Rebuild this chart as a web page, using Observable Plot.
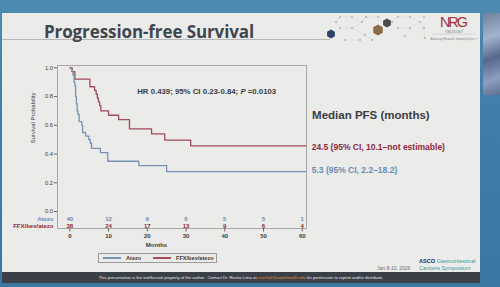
<!DOCTYPE html>
<html>
<head>
<meta charset="utf-8">
<script src="https://cdn.jsdelivr.net/npm/d3@7"></script>
<script src="https://cdn.jsdelivr.net/npm/@observablehq/plot@0.6"></script>
<style>
  html, body { margin: 0; padding: 0; }
  body { width: 500px; height: 287px; overflow: hidden; font-family: "Liberation Sans", Arial, sans-serif; }
  #stage { position: relative; width: 500px; height: 287px; overflow: hidden;
    background: linear-gradient(180deg, #4d8bb0 0%, #3f7ea8 40%, #3a77a2 100%); }
  #slide { position: absolute; left: 2px; top: 13px; width: 478px; height: 259px; background: #ebebe9; }
  #band { position: absolute; left: 2px; top: 272px; width: 478px; height: 11px; background: #3b3f47;
    color: #e8e8e8; font-size: 4.2px; line-height: 11px; text-align: center; white-space: nowrap; }
  #band span { color: #e0913a; }
  #photo { position: absolute; left: 483px; top: 13px; width: 17px; height: 82px;
    background: linear-gradient(160deg, #6d7f9c 0%, #a4b4cf 30%, #56698c 55%, #8c9fc0 80%, #5d7090 100%); }
  #title { position: absolute; left: 44px; top: 20px; font-family: "Open Sans", sans-serif; font-weight: 700;
    font-size: 17px; color: #3e4650; white-space: nowrap; letter-spacing: -0.1px; }
  #rule { position: absolute; left: 2px; top: 39px; width: 328px; height: 1px; background: #b5b8bb; }
  #chart { position: absolute; left: 0; top: 0; }
  #deco { position: absolute; left: 0; top: 0; }
  #legend { position: absolute; left: 98px; top: 252.5px; width: 119px; height: 10.5px; border: 0.8px solid #9a9a9a;
    box-sizing: border-box; font-size: 5.6px; color: #3a3d44; font-weight: 700; }
  #legend .it { position: absolute; top: 0; line-height: 9.5px; white-space: nowrap; }
  #legend .sw { display: inline-block; width: 18px; height: 1.2px; vertical-align: middle; margin-right: 5px; }
</style>
</head>
<body>
<div id="stage">
  <div id="slide"></div>
  <div id="band">This presentation is the intellectual property of the author.&nbsp; Contact Dr. Rocha Lima at <span>crochali@wakehealth.edu</span> for permission to reprint and/or distribute.</div>
  <div id="photo"></div>
  <div id="rule"></div>
  <div id="title">Progression-free Survival</div>
  <svg id="deco" width="500" height="287"></svg>
  <div id="chart"></div>
  <div id="legend">
    <div class="it" style="left:4px"><span class="sw" style="background:#7792b5"></span>Atezo</div>
    <div class="it" style="left:54px"><span class="sw" style="background:#a04a5a"></span>FFX/bev/atezo</div>
  </div>
</div>
<script>
// Numbers at risk, read at each 10-month tick
const months = [0, 10, 20, 30, 40, 50, 60];
const atezoAtRisk = [40, 12, 9, 6, 5, 5, 1];
const ffxAtRisk = [38, 24, 17, 13, 9, 6, 4];

// Kaplan–Meier step points (time in months, survival probability)
const atezoTime = [0, 0.5, 0.8, 1.1, 1.3, 1.5, 1.7, 1.9, 2.1, 2.4, 3.1, 3.3, 4.1, 4.9, 5.3, 5.6, 7.9, 9.8, 17.8, 25, 61];
const atezoSurv = [1, 0.975, 0.95, 0.9, 0.875, 0.8, 0.75, 0.7, 0.675, 0.625, 0.6, 0.55, 0.525, 0.5, 0.475, 0.44, 0.41, 0.35, 0.32, 0.277, 0.277];
const ffxTime = [0, 0.6, 1.3, 5.2, 6.4, 6.8, 7.1, 7.4, 7.7, 8.0, 10, 12.6, 15.4, 21.1, 24.5, 31.2, 61];
const ffxSurv = [1, 0.974, 0.921, 0.868, 0.842, 0.816, 0.79, 0.763, 0.737, 0.70, 0.67, 0.64, 0.575, 0.54, 0.497, 0.457, 0.457];

const yTicks = [0, 0.2, 0.4, 0.6, 0.8, 1.0];
const hrText = "HR 0.439; 95% CI 0.23-0.84; P =0.0103";
const medianTitle = "Median PFS (months)";
const ffxMedian = "24.5 (95% CI, 10.1–not estimable)";
const atezoMedian = "5.3 (95% CI, 2.2–18.2)";

const blue = "#7792b5", red = "#a04a5a";
const blueText = "#6a8cb3", redText = "#8c2a3d", ink = "#3a3d44";

const atezo = atezoTime.map((t, i) => ({t, s: atezoSurv[i]}));
const ffx = ffxTime.map((t, i) => ({t, s: ffxSurv[i]}));
const risk = months.map((m, i) => ({m, a: atezoAtRisk[i], f: ffxAtRisk[i]}));
const atRiskRowA = -0.054, atRiskRowF = -0.098;

const chart = Plot.plot({
  width: 500, height: 287,
  marginLeft: 57, marginRight: 194, marginTop: 65, marginBottom: 59,
  style: {background: "transparent", fontFamily: "Liberation Sans, Arial, sans-serif", color: ink, overflow: "visible"},
  x: {domain: [-3.18, 61.1]},
  y: {domain: [-0.118, 1.016]},
  marks: [
    Plot.frame({stroke: "#a3a3a3", strokeWidth: 0.9}),
    Plot.axisY(yTicks, {tickSize: 3, tickPadding: 1.5, tickFormat: d3.format(".1f"), fontSize: 5.8, label: null, stroke: "#666"}),
    Plot.axisX(months, {tickSize: 3.5, tickPadding: 1.5, fontSize: 6, label: null, stroke: "#666", fontWeight: 700}),
    Plot.text(["Months"], {frameAnchor: "bottom", dx: -25.5, dy: 18, fontSize: 6, fontWeight: 700, fill: ink}),
    Plot.text(["Survival Probability"], {frameAnchor: "left", rotate: -90, dx: -24, dy: -3.5, fontSize: 6, fill: ink}),
    Plot.line(ffx, {x: "t", y: "s", curve: "step-after", stroke: red, strokeWidth: 1.3}),
    Plot.line(atezo, {x: "t", y: "s", curve: "step-after", stroke: blue, strokeWidth: 1.3}),
    Plot.text(risk, {x: "m", y: () => atRiskRowA, text: "a", fill: blueText, fontSize: 6, fontWeight: 700}),
    Plot.text(risk, {x: "m", y: () => atRiskRowF, text: "f", fill: redText, fontSize: 6, fontWeight: 700}),
    Plot.text(["Atezo"], {frameAnchor: "left", y: () => atRiskRowA, dx: -4, textAnchor: "end", fill: blueText, fontSize: 6, fontWeight: 700}),
    Plot.text(["FFX/bev/atezo"], {frameAnchor: "left", y: () => atRiskRowF, dx: -4, textAnchor: "end", fill: redText, fontSize: 6, fontWeight: 700}),
    Plot.text([hrText], {x: 17.4, y: 0.838, textAnchor: "start", fontSize: 7.8, fontWeight: 700, fill: ink, className: "hr"}),
    Plot.text([medianTitle], {x: 61.1, y: 0.667, dx: 5.6, textAnchor: "start", fontSize: 11.5, fontWeight: 700, fill: ink}),
    Plot.text([ffx[ffx.length - 1]], {x: "t", y: "s", text: () => ffxMedian, dx: 5.6, dy: 1.4, textAnchor: "start", fontSize: 8.5, fontWeight: 700, fill: redText}),
    Plot.text([atezo[atezo.length - 1]], {x: "t", y: "s", text: () => atezoMedian, dx: 5.6, dy: -1, textAnchor: "start", fontSize: 8.5, fontWeight: 700, fill: blueText})
  ]
});
document.getElementById("chart").appendChild(chart);

// italic P in the hazard-ratio line
d3.select(chart).selectAll("g.hr text").each(function () {
  const t = d3.select(this);
  const parts = hrText.split("P =");
  t.text(null);
  t.append("tspan").text(parts[0]);
  t.append("tspan").attr("font-style", "italic").text("P");
  t.append("tspan").text(" =" + parts[1]);
});

// header decoration: hexagon network, NRG and ASCO marks, date
const deco = d3.select("#deco");
const dots = [[340,17],[352,17],[362,22],[352,28],[340,28],[336,22],[366,17],[378,17],[398,17],[410,17],[420,22],[410,28],[398,28],[392,22],[365,35],[360,40],[345,40],[424,17],[424,28],[425,38],[405,36],[372,40]];
const links = [[0,1],[1,2],[2,3],[3,4],[4,5],[5,0],[2,6],[6,7],[8,9],[9,10],[10,11],[11,12],[12,13],[13,8],[3,14],[14,15],[15,16],[10,18],[18,19],[11,20],[14,21]];
deco.selectAll("line.l").data(links).join("line")
  .attr("x1", d => dots[d[0]][0]).attr("y1", d => dots[d[0]][1])
  .attr("x2", d => dots[d[1]][0]).attr("y2", d => dots[d[1]][1])
  .attr("stroke", "#d3d4d5").attr("stroke-width", 0.5);
deco.selectAll("circle.d").data(dots).join("circle")
  .attr("cx", d => d[0]).attr("cy", d => d[1]).attr("r", 0.7).attr("fill", "#7b8088");
const hex = (cx, cy, r) => d3.range(6).map(i => [cx + r * Math.cos(Math.PI / 3 * i + Math.PI / 6), cy + r * Math.sin(Math.PI / 3 * i + Math.PI / 6)].join(",")).join(" ");
deco.append("polygon").attr("points", hex(331, 34, 4.5)).attr("fill", "#2d4466");
deco.append("polygon").attr("points", hex(378, 30, 5.5)).attr("fill", "#8c6a4c");
deco.append("polygon").attr("points", hex(387, 23, 4.5)).attr("fill", "#4a4c50");
deco.append("text").attr("x", 454).attr("y", 26.8).attr("text-anchor", "middle").attr("font-size", 14.5)
  .attr("font-family", "Liberation Sans, Arial").attr("fill", "#a3343c").attr("textLength", 28).text("NRG");
deco.append("text").attr("x", 454).attr("y", 32.6).attr("text-anchor", "middle").attr("font-size", 3)
  .attr("fill", "#6b6f75").text("ONCOLOGY");
deco.append("line").attr("x1", 432).attr("x2", 476).attr("y1", 34).attr("y2", 34).attr("stroke", "#b9b9b9").attr("stroke-width", 0.5);
deco.append("text").attr("x", 454).attr("y", 40).attr("text-anchor", "middle").attr("font-size", 2.6)
  .attr("fill", "#7a7e84").text("Advancing Research. Improving Lives.™");
deco.append("text").attr("x", 377).attr("y", 269.5).attr("font-size", 5).attr("fill", "#6b6e73")
  .attr("font-family", "Liberation Sans, Arial").text("Jan 8-10, 2026");
const asco = deco.append("text").attr("x", 419).attr("y", 263).attr("font-size", 5.6).attr("font-family", "Liberation Sans, Arial");
asco.append("tspan").attr("font-weight", 700).attr("fill", "#1d2b4c").text("ASCO ");
asco.append("tspan").attr("fill", "#3f9aa0").text("Gastrointestinal");
deco.append("text").attr("x", 419).attr("y", 269.5).attr("font-size", 5.6).attr("font-family", "Liberation Sans, Arial")
  .attr("fill", "#3f9aa0").text("Cancers Symposium");
</script>
</body>
</html>
